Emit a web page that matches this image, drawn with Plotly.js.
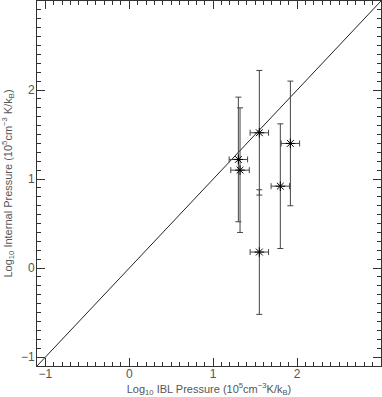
<!DOCTYPE html>
<html>
<head>
<meta charset="utf-8">
<script src="https://cdn.plot.ly/plotly-3.0.1.min.js"></script>
<style>html,body{margin:0;padding:0;background:#fff;}#chart{width:382px;height:397px;}</style>
</head>
<body>
<div id="chart"></div>
<script>
// Log10 IBL pressure (x) and Log10 internal pressure (y)
const iblPressure = [1.30, 1.32, 1.55, 1.80, 1.55, 1.92];
const internalPressure = [1.22, 1.10, 1.52, 0.92, 0.18, 1.40];
const iblErr = [0.11, 0.11, 0.11, 0.11, 0.11, 0.11];
const internalErr = [0.70, 0.70, 0.70, 0.70, 0.70, 0.70];
// one-to-one reference line
const lineX = [-1.2, 3.1];
const lineY = [-1.2, 3.1];
const tickVals = [-1, 0, 1, 2];
const tickText = ['\u22121', '0', '1', '2'];

const tickFont = {family: 'Liberation Sans', size: 12, color: '#555'};
const titleFont = {family: 'Liberation Sans', size: 11, color: '#555'};

function axis(extra) {
  return Object.assign({
    range: [-1.1, 3.0],
    tickvals: tickVals,
    ticktext: tickText,
    ticks: 'inside',
    ticklen: 8,
    tickwidth: 1,
    tickcolor: '#333',
    showline: true,
    linecolor: '#333',
    linewidth: 1,
    mirror: 'allticks',
    showgrid: false,
    zeroline: false,
    minor: {tickmode: 'linear', dtick: 0.1, tick0: 0, ticks: 'inside', ticklen: 4, tickwidth: 1, tickcolor: '#333', showgrid: false},
    tickfont: tickFont,
    fixedrange: true
  }, extra);
}

const data = [
  {
    x: lineX, y: lineY, mode: 'lines', type: 'scatter',
    line: {color: '#222', width: 1}, hoverinfo: 'skip', showlegend: false
  },
  {
    x: iblPressure, y: internalPressure, mode: 'markers', type: 'scatter',
    marker: {symbol: 'asterisk-open', size: 8, color: '#000', line: {color: '#000', width: 1}},
    error_x: {type: 'data', array: iblErr, visible: true, color: '#444', thickness: 1, width: 3},
    error_y: {type: 'data', array: internalErr, visible: true, color: '#444', thickness: 1, width: 3},
    showlegend: false
  }
];

const layout = {
  width: 382, height: 397,
  margin: {l: 37, r: 1, t: 1, b: 31},
  paper_bgcolor: '#fff', plot_bgcolor: '#fff',
  showlegend: false,
  xaxis: axis({
    ticklabelstandoff: -3,
    title: {text: 'Log<sub>10</sub> IBL Pressure (10<sup>5</sup>cm<sup>\u22123</sup>K/k<sub>B</sub>)',
            font: titleFont, standoff: 2}
  }),
  yaxis: axis({
    ticklabelstandoff: -1,
    title: {text: 'Log<sub>10</sub> Internal Pressure (10<sup>5</sup>cm<sup>\u22123</sup> K/k<sub>B</sub>)',
            font: titleFont, standoff: 6}
  }),
  xaxis2: axis({overlaying: 'x', side: 'top', anchor: 'y', showticklabels: false}),
  yaxis2: axis({overlaying: 'y', side: 'right', anchor: 'x', showticklabels: false})
};

Plotly.newPlot('chart', data, layout, {displayModeBar: false, staticPlot: true});
</script>
</body>
</html>
